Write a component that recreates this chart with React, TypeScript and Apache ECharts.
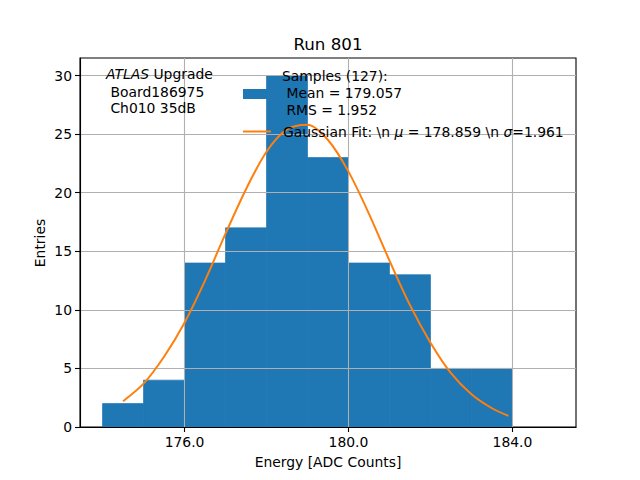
import React, { useEffect, useRef } from 'react';
import * as echarts from 'echarts';

const binEdges = [174, 175, 176, 177, 178, 179, 180, 181, 182, 183, 184, 185];
const counts = [2, 4, 14, 17, 30, 23, 14, 13, 5, 5, 0];
const fitX = [174.5, 175, 175.5, 176, 176.5, 177, 177.5, 178, 178.5, 179, 179.5, 180, 180.5, 181, 181.5, 182, 182.5, 183, 183.5, 183.9];
const fitY = [2.2, 3.7, 6.0, 8.9, 12.5, 16.5, 20.3, 23.5, 25.4, 25.8, 24.5, 21.8, 18.2, 14.2, 10.4, 7.2, 4.6, 2.8, 1.6, 0.95];
const xTicks = [176, 180, 184];
const yTicks = [0, 5, 10, 15, 20, 25, 30];
const titleText = 'Run 801';
const xName = 'Energy [ADC Counts]';
const yName = 'Entries';
const infoLines = ['Upgrade', ' Board186975', ' Ch010 35dB'];
const sampleLines = ['Samples (127):', ' Mean = 179.057', ' RMS = 1.952'];
const fitLabel = { a: 'Gaussian Fit: \\n ', mu: 'μ', b: ' = 178.859 \\n ', sigma: 'σ', c: '=1.961' };

const FONT = 'DejaVu Sans';
const FS = 13.9;
const BLUE = '#1f77b4';
const ORANGE = '#ff7f0e';
const GRIDC = '#b0b0b0';

export default function App() {
  const ref = useRef<HTMLDivElement>(null);
  useEffect(() => {
    if (!ref.current) return;
    const chart = echarts.init(ref.current, null, { renderer: 'svg' });
    const histData = counts.map((c, i) => [binEdges[i], binEdges[i + 1], c]);
    const fitData = fitX.map((x, i) => [x, fitY[i]]);
    const textStyle = (extra: any) => ({ fontFamily: FONT, fontSize: FS, fill: '#000', ...extra });
    chart.setOption({
      animation: false,
      grid: { left: 80, right: 64, top: 58, bottom: 53, show: true, borderColor: '#000', borderWidth: 1.1, backgroundColor: 'transparent', containLabel: false },
      xAxis: {
        type: 'value', min: 173.45, max: 185.55, z: 3,
        axisLine: { show: true, onZero: false, lineStyle: { color: '#000', width: 1.1 } },
        axisTick: { show: true, length: 5, customValues: xTicks, lineStyle: { color: '#000', width: 1.1 } },
        axisLabel: { customValues: xTicks, margin: 8, fontFamily: FONT, fontSize: FS, color: '#000', formatter: (v: number) => v.toFixed(1) },
        splitLine: { show: false },
      },
      yAxis: {
        type: 'value', min: 0, max: 31.5, z: 3,
        axisLine: { show: true, lineStyle: { color: '#000', width: 1.1 } },
        axisTick: { show: true, length: 5, customValues: yTicks, lineStyle: { color: '#000', width: 1.1 } },
        axisLabel: { customValues: yTicks, margin: 8, fontFamily: FONT, fontSize: FS, color: '#000' },
        splitLine: { show: true, lineStyle: { color: GRIDC, width: 1.1 } },
      },
      series: [
        {
          type: 'custom', z: 1, data: histData, encode: { x: [0, 1], y: 2 },
          renderItem: (params: any, api: any) => {
            const p0 = api.coord([api.value(0), 0]);
            const p1 = api.coord([api.value(1), api.value(2)]);
            return {
              type: 'rect',
              shape: { x: p0[0], y: p1[1], width: p1[0] - p0[0], height: p0[1] - p1[1] },
              style: { fill: BLUE, stroke: api.value(2) > 0 ? BLUE : 'none', lineWidth: 0.7 },
            };
          },
        },
        {
          type: 'line', z: 2, data: [], silent: true,
          markLine: {
            silent: true, symbol: ['none', 'none'], label: { show: false }, animation: false,
            lineStyle: { color: GRIDC, width: 1.1, type: 'solid' },
            data: xTicks.map((v) => ({ xAxis: v })),
          },
        },
        {
          type: 'line', z: 5, data: fitData, smooth: 0.3, showSymbol: false, symbol: 'none',
          lineStyle: { color: ORANGE, width: 2 },
        },
      ],
      graphic: [
        { type: 'text', x: 328, y: 44, z: 10, style: textStyle({ text: titleText, fontSize: 16.7, align: 'center', verticalAlign: 'middle' }) },
        { type: 'text', x: 328, y: 462, z: 10, style: textStyle({ text: xName, align: 'center', verticalAlign: 'middle' }) },
        { type: 'text', x: 40, y: 243, rotation: Math.PI / 2, z: 10, style: textStyle({ text: yName, align: 'center', verticalAlign: 'middle' }) },
        { type: 'text', x: 106, y: 74, z: 10, style: textStyle({ text: '{i|ATLAS} {n|' + infoLines[0] + '}', verticalAlign: 'middle', rich: { i: { fontFamily: FONT, fontSize: FS, fontStyle: 'italic' }, n: { fontFamily: FONT, fontSize: FS } } }) },
        { type: 'text', x: 106, y: 91.5, z: 10, style: textStyle({ text: infoLines[1], verticalAlign: 'middle' }) },
        { type: 'text', x: 106, y: 108, z: 10, style: textStyle({ text: infoLines[2], verticalAlign: 'middle' }) },
        { type: 'rect', z: 10, shape: { x: 243, y: 89, width: 28, height: 10 }, style: { fill: BLUE } },
        { type: 'line', z: 10, shape: { x1: 243, y1: 131.5, x2: 271, y2: 131.5 }, style: { stroke: ORANGE, lineWidth: 2 } },
        { type: 'text', x: 282, y: 76, z: 10, style: textStyle({ text: sampleLines[0], verticalAlign: 'middle' }) },
        { type: 'text', x: 282, y: 92.5, z: 10, style: textStyle({ text: sampleLines[1], verticalAlign: 'middle' }) },
        { type: 'text', x: 282, y: 109.5, z: 10, style: textStyle({ text: sampleLines[2], verticalAlign: 'middle' }) },
        {
          type: 'text', x: 283, y: 131.5, z: 10,
          style: textStyle({
            text: '{n|' + fitLabel.a + '}{i|' + fitLabel.mu + '}{n|' + fitLabel.b + '}{i|' + fitLabel.sigma + '}{n|' + fitLabel.c + '}',
            verticalAlign: 'middle',
            rich: { i: { fontFamily: FONT, fontSize: FS, fontStyle: 'italic' }, n: { fontFamily: FONT, fontSize: FS } },
          }),
        },
      ],
    });
    return () => chart.dispose();
  }, []);
  return <div ref={ref} style={{ position: 'fixed', left: 0, top: 0, width: 640, height: 480, background: '#fff' }} />;
}
